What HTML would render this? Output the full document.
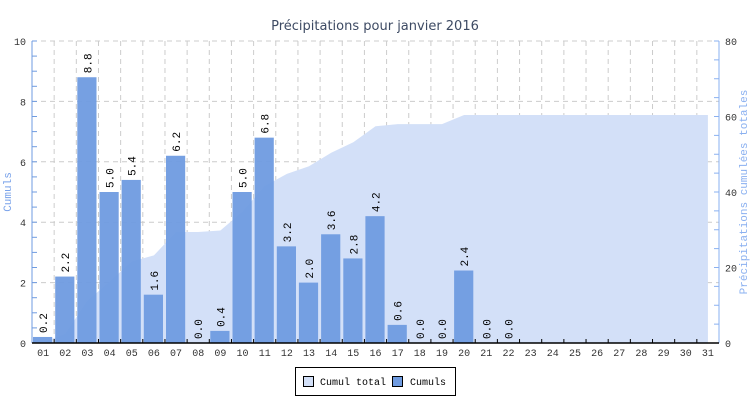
<!DOCTYPE html>
<html><head><meta charset="utf-8"><style>
body{margin:0;background:#fff}
svg{display:block}
text{font-family:"Liberation Mono","DejaVu Sans Mono",monospace}
</style></head><body>
<svg id="s" width="750" height="400" xmlns="http://www.w3.org/2000/svg"></svg>
<script>
const s=document.getElementById('s');
const L=32,R=719,T=41,B=343,W=(R-L)/31;
const vals=[0.2,2.2,8.8,5.0,5.4,1.6,6.2,0.0,0.4,5.0,6.8,3.2,2.0,3.6,2.8,4.2,0.6,0.0,0.0,2.4,0.0,0.0];
let h='';
const yl=v=>B-v*(B-T)/10, yr=v=>B-v*(B-T)/80;
h+=`<text x="375" y="30" text-anchor="middle" font-size="13" fill="#3d4a63" style="font-family:'DejaVu Sans','Liberation Sans',sans-serif">Précipitations pour janvier 2016</text>`;
for(let i=1;i<=31;i++){const x=L+i*W;h+=`<line x1="${x}" y1="${T}" x2="${x}" y2="${B}" stroke="#ccc" stroke-dasharray="5,4"/>`;}
for(let v=2;v<=10;v+=2){h+=`<line x1="${L}" y1="${yl(v)}" x2="${R}" y2="${yl(v)}" stroke="#ccc" stroke-dasharray="5,4"/>`;}
let c=0,pts=[];
for(let i=0;i<31;i++){c+=(vals[i]||0);pts.push([L+(i+0.5)*W,yr(c)]);}
let p=`M${pts[0][0]},${B} `+pts.map(q=>`L${q[0].toFixed(1)},${q[1].toFixed(1)}`).join(' ')+` L${pts[30][0]},${B}Z`;
h+=`<path d="${p}" fill="#d3e0f8"/>`;
for(let i=0;i<vals.length;i++){const x0=L+i*W+1,v=vals[i];
 if(v>0)h+=`<rect x="${x0.toFixed(1)}" y="${yl(v)}" width="${(W-3).toFixed(1)}" height="${B-yl(v)}" fill="#6f9be0" opacity="0.95"/>`;
 const cx=L+(i+0.5)*W+4,ty=yl(v)-4;
 h+=`<text transform="translate(${cx.toFixed(1)},${ty}) rotate(-90)" font-size="11" fill="#000">${v.toFixed(1)}</text>`;}
h+=`<line x1="${L}" y1="${T}" x2="${L}" y2="${B}" stroke="#6f9be0"/>`;
h+=`<line x1="${R}" y1="${T}" x2="${R}" y2="${B}" stroke="#8ab0f0"/>`;
for(let v=0;v<=10;v+=0.5){const y=yl(v);h+=`<line x1="${L}" y1="${y}" x2="${L+5}" y2="${y}" stroke="#6f9be0"/>`;if(v%2==0)h+=`<text x="${L-6}" y="${y+4}" text-anchor="end" font-size="10" fill="#333">${v}</text>`;}
for(let v=0;v<=80;v+=5){const y=yr(v);h+=`<line x1="${R-5}" y1="${y}" x2="${R}" y2="${y}" stroke="#8ab0f0"/>`;if(v%20==0)h+=`<text x="${R+6}" y="${y+4}" font-size="10" fill="#333">${v}</text>`;}
h+=`<line x1="${L}" y1="${B}" x2="${R}" y2="${B}" stroke="#000" stroke-width="1.5"/>`;
for(let i=1;i<31;i++){const x=L+i*W;h+=`<line x1="${x}" y1="${B-4}" x2="${x}" y2="${B}" stroke="#000"/>`;}
for(let i=0;i<31;i++){const x=L+(i+0.5)*W;h+=`<text x="${x.toFixed(1)}" y="${B+13}" text-anchor="middle" font-size="10" fill="#333">${String(i+1).padStart(2,'0')}</text>`;}
h+=`<text transform="translate(11,192) rotate(-90)" text-anchor="middle" font-size="11" fill="#7aa3ea">Cumuls</text>`;
h+=`<text transform="translate(747,192) rotate(-90)" text-anchor="middle" font-size="11" fill="#8ab0f0">Précipitations cumulées totales</text>`;
h+=`<rect x="295.5" y="367.5" width="160" height="28" fill="#fff" stroke="#000"/>`;
h+=`<rect x="303.5" y="376.5" width="10" height="10" fill="#d3e0f8" stroke="#000"/>`;
h+=`<text x="320" y="385" font-size="10" fill="#000">Cumul total</text>`;
h+=`<rect x="392.5" y="376.5" width="10" height="10" fill="#6f9be0" stroke="#000"/>`;
h+=`<text x="410" y="385" font-size="10" fill="#000">Cumuls</text>`;
s.innerHTML=h;
</script>
</body></html>
